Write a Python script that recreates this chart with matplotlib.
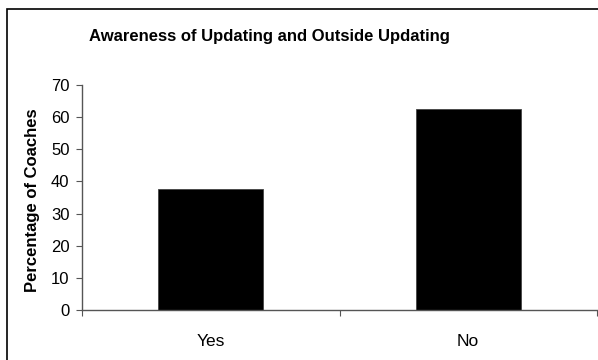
import matplotlib
matplotlib.use("Agg")
import matplotlib.pyplot as plt
from matplotlib.patches import Rectangle

plt.rcParams["font.family"] = ["Liberation Sans", "DejaVu Sans"]

categories = ["Yes", "No"]
percentages = [37.5, 62.5]
y_ticks = [0, 10, 20, 30, 40, 50, 60, 70]

W, H = 598, 360
fig = plt.figure(figsize=(W / 100, H / 100), dpi=100)

# outer frame of the chart area (runs off the right and bottom edges)
fig.patches.append(Rectangle((7 / W, -0.1), 1.2, 1 - 9 / H + 0.1,
                             transform=fig.transFigure, fill=False,
                             edgecolor="black", linewidth=1.2))

ax = fig.add_axes([82 / W, 50 / H, 515 / W, 225 / H])
x = list(range(len(categories)))
ax.bar(x, percentages, width=0.407, color="black", edgecolor="#444444", linewidth=0.6)

ax.set_xlim(-0.5, len(categories) - 0.5)
ax.set_ylim(0, 70)
ax.set_yticks(y_ticks)
ax.set_xticks(x)
ax.set_xticklabels(categories)
ax.set_xticks([i - 0.5 for i in range(len(categories) + 1)], minor=True)

ax.tick_params(axis="x", which="major", length=0, pad=17, labelsize=12.5)
ax.tick_params(axis="x", which="minor", length=4, width=0.8, color="#555555")
ax.tick_params(axis="y", length=4, width=0.8, color="#555555", pad=5, labelsize=12)

for side in ["top", "right"]:
    ax.spines[side].set_visible(False)
for side in ["left", "bottom"]:
    ax.spines[side].set_color("#555555")
    ax.spines[side].set_linewidth(1.0)

fig.text(33 / W, 1 - 200 / H, "Percentage of Coaches", rotation=90,
         ha="center", va="center", fontsize=12, fontweight="bold")
fig.text(269 / W, 1 - 37 / H, "Awareness of Updating and Outside Updating",
         ha="center", va="center", fontsize=12, fontweight="bold")

fig.savefig("out.png", dpi=100)
